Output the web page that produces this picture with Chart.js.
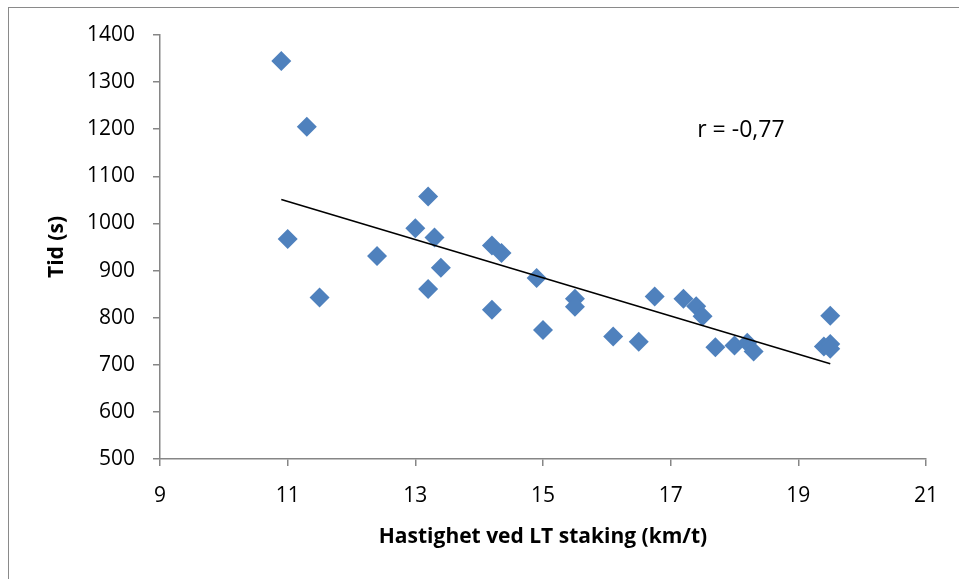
<!DOCTYPE html>
<html>
<head>
<meta charset="utf-8">
<script src="https://cdn.jsdelivr.net/npm/chart.js@4/dist/chart.umd.min.js"></script>
<style>
  html, body { margin: 0; padding: 0; background: #fff; overflow: hidden; }
  #wrap { position: relative; width: 959px; height: 579px; }
  #frame { position: absolute; left: 8px; top: 7px; width: 1200px; height: 1200px; border: 1px solid #8a8a8a; box-sizing: border-box; }
  canvas { position: absolute; left: 0; top: 0; }
</style>
</head>
<body>
<div id="wrap">
  <div id="frame"></div>
  <canvas id="c" width="959" height="579"></canvas>
</div>
<script>
// Speed at LT double poling (km/t)
const speed = [10.9, 11.3, 11.0, 11.5, 12.4, 13.0, 13.2, 13.3, 13.4, 13.2, 14.2, 14.35, 14.2, 14.9, 15.0, 15.5, 15.5, 16.1, 16.5, 16.75, 17.2, 17.4, 17.5, 17.7, 18.0, 18.2, 18.3, 19.4, 19.5, 19.5, 19.5];
// Time (s)
const time = [1345, 1205, 967, 843, 931, 990, 1057, 970, 906, 861, 953, 937, 817, 884, 774, 840, 823, 760, 749, 845, 840, 824, 803, 737, 741, 747, 728, 739, 804, 744, 734];
// Trend line end points
const trendX = [10.9, 19.5];
const trendY = [1051, 702];
// Axis ticks
const xTicks = [9, 11, 13, 15, 17, 19, 21];
const yTicks = [500, 600, 700, 800, 900, 1000, 1100, 1200, 1300, 1400];
const annotationText = 'r = -0,77';
const annotationPos = [18.1, 1198];

const FONT = '"Open Sans", Lato, sans-serif';
const AXIS = '#868686';

const annot = {
  id: 'annot',
  afterDatasetsDraw(chart) {
    const ctx = chart.ctx;
    const xs = chart.scales.x, ys = chart.scales.y;
    ctx.save();
    ctx.font = '23px ' + FONT;
    ctx.fillStyle = '#000';
    ctx.textAlign = 'center';
    ctx.textBaseline = 'middle';
    ctx.fillText(annotationText, xs.getPixelForValue(annotationPos[0]), ys.getPixelForValue(annotationPos[1]));
    ctx.restore();
  }
};

new Chart(document.getElementById('c'), {
  type: 'scatter',
  data: {
    datasets: [
      {
        type: 'line',
        data: trendX.map((x, i) => ({x, y: trendY[i]})),
        borderColor: '#000',
        borderWidth: 1.6,
        pointRadius: 0,
        fill: false,
        order: 0
      },
      {
        data: speed.map((x, i) => ({x, y: time[i]})),
        pointStyle: 'rectRot',
        pointRadius: 10,
        backgroundColor: '#4F81BD',
        borderColor: '#4F81BD',
        borderWidth: 0,
        order: 1
      }
    ]
  },
  options: {
    responsive: false,
    animation: false,
    devicePixelRatio: 1,
    layout: { padding: { left: 0, top: 35, right: 33, bottom: 0 } },
    plugins: { legend: { display: false }, tooltip: { enabled: false } },
    scales: {
      x: {
        type: 'linear',
        min: 9, max: 21,
        afterFit: s => { s.height = 120; },
        afterBuildTicks: s => { s.ticks = xTicks.map(v => ({value: v})); },
        grid: { display: true, drawOnChartArea: false, drawTicks: true, tickLength: 7, color: AXIS, lineWidth: 1.5 },
        border: { display: true, color: AXIS, width: 1.5 },
        ticks: { color: '#000', font: { family: FONT, size: 21 }, padding: 17, maxRotation: 0, callback: v => String(v) },
        title: { display: true, text: 'Hastighet ved LT staking (km/t)', color: '#000', font: { family: FONT, size: 21, weight: 'bold' }, padding: { top: 0, bottom: 29 } }
      },
      y: {
        type: 'linear',
        min: 500, max: 1400,
        afterFit: s => { s.width = 160; },
        afterBuildTicks: s => { s.ticks = yTicks.map(v => ({value: v})); },
        grid: { display: true, drawOnChartArea: false, drawTicks: true, tickLength: 7, color: AXIS, lineWidth: 1.5 },
        border: { display: true, color: AXIS, width: 1.5 },
        ticks: { color: '#000', font: { family: FONT, size: 21 }, padding: 18, callback: v => String(v) },
        title: { display: true, text: 'Tid (s)', color: '#000', font: { family: FONT, size: 21, weight: 'bold' }, padding: { top: 44, bottom: 0 } }
      }
    }
  },
  plugins: [annot]
});
</script>
</body>
</html>
